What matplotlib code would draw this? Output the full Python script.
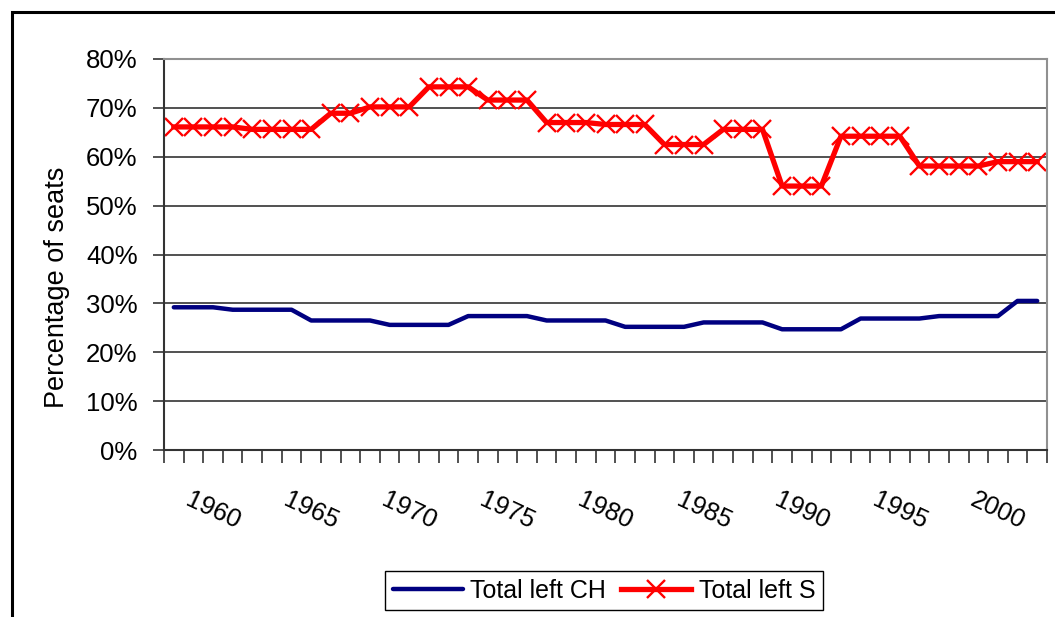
import numpy as np
import matplotlib
matplotlib.use("Agg")
import matplotlib.pyplot as plt
from matplotlib.patches import Rectangle
from matplotlib.ticker import MultipleLocator, FuncFormatter

plt.rcParams['font.family'] = ['Liberation Sans', 'DejaVu Sans']

years = [1958, 1959, 1960, 1961, 1962, 1963, 1964, 1965, 1966, 1967,
         1968, 1969, 1970, 1971, 1972, 1973, 1974, 1975, 1976, 1977,
         1978, 1979, 1980, 1981, 1982, 1983, 1984, 1985, 1986, 1987,
         1988, 1989, 1990, 1991, 1992, 1993, 1994, 1995, 1996, 1997,
         1998, 1999, 2000, 2001, 2002]

# share of seats held by the left, in percent
left_ch = [29.2, 29.2, 29.2, 28.7, 28.7, 28.7, 28.7, 26.5, 26.5, 26.5,
           26.5, 25.6, 25.6, 25.6, 25.6, 27.4, 27.4, 27.4, 27.4, 26.5,
           26.5, 26.5, 26.5, 25.2, 25.2, 25.2, 25.2, 26.1, 26.1, 26.1,
           26.1, 24.7, 24.7, 24.7, 24.7, 26.9, 26.9, 26.9, 26.9, 27.4,
           27.4, 27.4, 27.4, 30.5, 30.5]
left_s = [66.1, 66.1, 66.1, 66.1, 65.6, 65.6, 65.6, 65.6, 68.9, 68.9,
          70.2, 70.2, 70.2, 74.3, 74.3, 74.3, 71.6, 71.6, 71.6, 67.0,
          67.0, 67.0, 66.6, 66.6, 66.6, 62.5, 62.5, 62.5, 65.6, 65.6,
          65.6, 54.0, 54.0, 54.0, 64.2, 64.2, 64.2, 64.2, 58.1, 58.1,
          58.1, 58.1, 59.0, 59.0, 59.0]

label_years = [1960, 1965, 1970, 1975, 1980, 1985, 1990, 1995, 2000]

W, H = 1055, 617
fig = plt.figure(figsize=(W / 100, H / 100), dpi=100)
ax = fig.add_axes([164 / W, 1 - 450 / H, (1047 - 164) / W, (450 - 59) / H])

x = np.arange(len(years))
ax.plot(x, left_ch, color='#000080', lw=3.2, solid_capstyle='round',
        label='Total left CH')
ax.plot(x, left_s, color='#ff0000', lw=3.8, marker='x', ms=12.5, mew=1.7,
        label='Total left S')

ax.set_xlim(-0.5, len(years) - 0.5)
ax.set_ylim(0, 80)
ax.yaxis.set_major_locator(MultipleLocator(10))
ax.yaxis.set_major_formatter(FuncFormatter(lambda v, p: f'{v:.0f}%'))
ax.grid(axis='y', color='#333333', lw=1.2)
ax.set_axisbelow(True)

for side in ['left', 'bottom']:
    ax.spines[side].set_color('#333333')
    ax.spines[side].set_linewidth(1.5)
for side in ['top', 'right']:
    ax.spines[side].set_color('#909090')
    ax.spines[side].set_linewidth(1.5)

ax.tick_params(axis='y', length=8, width=1.2, color='#333333', pad=11,
               labelsize=18.5)

ax.set_xticks([years.index(y) for y in label_years])
ax.set_xticklabels([str(y) for y in label_years], rotation=-25, ha='center')
ax.set_xticks(np.arange(-0.5, len(years)), minor=True)
ax.tick_params(axis='x', which='major', length=0, pad=27, labelsize=18.5)
ax.tick_params(axis='x', which='minor', length=9, width=1.2, color='#333333')

fig.text(57 / W, 1 - 287 / H, 'Percentage of seats', rotation=90,
         ha='center', va='center', fontsize=19.5)

leg = fig.legend(loc='center', bbox_to_anchor=(604 / W, 1 - 590.5 / H),
                 ncol=2, fancybox=False, edgecolor='black', framealpha=1,
                 fontsize=18, handlelength=2.8, handletextpad=0.3,
                 columnspacing=0.6, borderpad=0.3, numpoints=1)
leg.get_frame().set_linewidth(1.0)

# outer chart border (right and bottom run off the picture)
fig.add_artist(Rectangle((12 / W, -0.1), 1.2, (1 - 12 / H) + 0.1,
                         transform=fig.transFigure, fill=False,
                         ec='black', lw=2.2))

fig.savefig('out.png', dpi=100)
